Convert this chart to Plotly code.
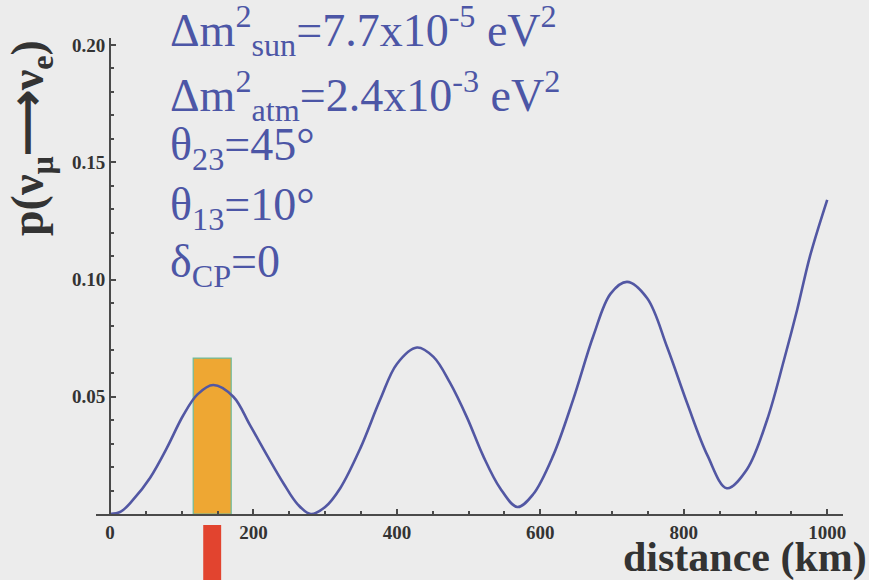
import plotly.graph_objects as go

# ---- data ----
distance_km = [0, 15, 32, 56, 79, 102, 122, 144, 172, 195, 219, 242, 262, 280, 300,
               321, 349, 377, 400, 428, 451, 474, 498, 520, 544, 568, 590, 618, 646,
               674, 698, 721, 749, 777, 805, 833, 860, 888, 916, 940, 958, 976, 1000]
probability = [0.0, 0.001, 0.006, 0.0155, 0.028, 0.042, 0.051, 0.055, 0.050, 0.038,
               0.025, 0.013, 0.004, 0.0, 0.003, 0.011, 0.028, 0.049, 0.064, 0.071,
               0.067, 0.056, 0.041, 0.025, 0.011, 0.003, 0.0084, 0.025, 0.049, 0.076,
               0.094, 0.099, 0.092, 0.071, 0.047, 0.025, 0.011, 0.019, 0.040, 0.066,
               0.087, 0.110, 0.134]

band_km = [116, 169]          # orange band (distance range)
band_top = 0.0665             # orange band height
marker_km = [130, 155]        # red marker below the axis

x_ticks = [0, 200, 400, 600, 800, 1000]
x_ticklabels = ["0", "200", "400", "600", "800", "1000"]
y_ticks = [0.05, 0.10, 0.15, 0.20]
y_ticklabels = ["0.05", "0.10", "0.15", "0.20"]

param_lines = [
    "Δm<sup>2</sup><sub>sun</sub>=7.7x10<sup>-5</sup> eV<sup>2</sup>",
    "Δm<sup>2</sup><sub>atm</sub>=2.4x10<sup>-3</sup> eV<sup>2</sup>",
    "θ<sub>23</sub>=45°",
    "θ<sub>13</sub>=10°",
    "δ<sub>CP</sub>=0",
]

# ---- figure ----
W, H = 869, 580
ML, MR, MT, MB = 96, 26, 38, 66
XR = [-19.5, 1022]
YR = [0, 0.203]
plot_h = H - MT - MB
plot_w = W - ML - MR

serif = "Liberation Serif"
axis_col = "#4a4a4a"
blue = "#4c56a6"
dark = "#333333"

fig = go.Figure()
fig.add_trace(go.Scatter(
    x=distance_km, y=probability, mode="lines",
    line=dict(color="#5257a3", width=2.6, shape="spline", smoothing=1.0),
    hoverinfo="skip", showlegend=False,
))

# orange band
fig.add_shape(type="rect", xref="x", yref="y", x0=band_km[0], x1=band_km[1],
              y0=0, y1=band_top, fillcolor="#eea733",
              line=dict(color="#6dbb9c", width=1.2), layer="below")
# red marker below the axis
fig.add_shape(type="rect", xref="x", yref="paper", x0=marker_km[0], x1=marker_km[1],
              y0=-(620 - (H - MB)) / plot_h, y1=-11 / plot_h,
              fillcolor="#e2442f", line=dict(width=0), layer="above")

# parameter annotations (vertical centres in pixels)
line_mid = [30, 95, 148, 208, 265]
for txt, ym in zip(param_lines, line_mid):
    fig.add_annotation(text=txt, xref="paper", yref="paper",
                       x=(168 - ML) / plot_w, y=1 - (ym - MT) / plot_h,
                       xanchor="left", yanchor="middle", showarrow=False,
                       font=dict(family=serif, size=46, color=blue))

# y title (rotated)
fig.add_annotation(text="p(ν<sub>μ</sub>⟶ν<sub>e</sub>)", xref="paper", yref="paper",
                   x=(31 - ML) / plot_w, y=1 - (138 - MT) / plot_h,
                   xanchor="center", yanchor="middle", textangle=-90, showarrow=False,
                   font=dict(family=serif, size=46, color=dark, weight="bold"))
# x title
fig.add_annotation(text="distance (km)", xref="paper", yref="paper",
                   x=(869 - ML) / plot_w, y=-(557 - (H - MB)) / plot_h,
                   xanchor="right", yanchor="middle", showarrow=False,
                   font=dict(family=serif, size=42, color=dark, weight="bold"))

tickfont = dict(family=serif, size=19, color=dark, weight="bold")
fig.update_layout(
    width=W, height=H,
    margin=dict(l=ML, r=MR, t=MT, b=MB),
    paper_bgcolor="#ececec", plot_bgcolor="#ececec",
    xaxis=dict(range=XR, showgrid=False, zeroline=False,
               showline=True, linecolor=axis_col, linewidth=2,
               tickvals=x_ticks, ticktext=x_ticklabels, ticks="inside",
               ticklen=5, tickcolor=axis_col, tickwidth=1.5, tickfont=tickfont,
               minor=dict(dtick=50, tick0=0, ticks="inside", ticklen=3,
                          tickcolor=axis_col)),
    yaxis=dict(range=YR, showgrid=False, zeroline=False, anchor="free",
               position=(0 - XR[0]) / (XR[1] - XR[0]),
               showline=True, linecolor=axis_col, linewidth=2,
               tickvals=y_ticks, ticktext=y_ticklabels, ticks="inside",
               ticklen=5, tickcolor=axis_col, tickwidth=1.5, tickfont=tickfont,
               minor=dict(dtick=0.01, tick0=0, ticks="inside", ticklen=3,
                          tickcolor=axis_col)),
)

fig.write_html("out.html", config={"displayModeBar": False},
               post_script="document.body.style.margin='0';")
